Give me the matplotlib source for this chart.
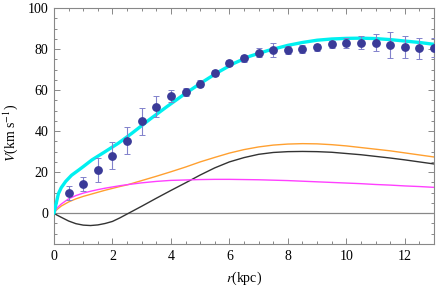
import matplotlib
matplotlib.use("Agg")
import matplotlib.pyplot as plt
from matplotlib.ticker import MultipleLocator

plt.rcParams['font.family'] = ['Liberation Serif', 'DejaVu Serif']
plt.rcParams['mathtext.fontset'] = 'stix'

# observed rotation curve
r_obs = [0.5, 1, 1.5, 2, 2.5, 3, 3.5, 4, 4.5, 5, 5.5, 6, 6.5,
         7, 7.5, 8, 8.5, 9, 9.5, 10, 10.5, 11, 11.5, 12, 12.5, 13]
v_obs = [9.8, 14.1, 21.0, 28.0, 35.4, 44.7, 52.0, 56.9, 59.1, 63.0, 68.2, 73.1, 75.4,
         78.3, 79.4, 79.5, 80.0, 80.8, 82.3, 83.1, 83.1, 83.1, 81.8, 81.1, 80.3, 80.7]
v_err = [3.5, 3.4, 5.8, 6.5, 6.7, 6.4, 5.0, 2.9, 1.8, 1.7, 1.5, 1.6, 1.8,
         2.4, 3.4, 2.0, 2.0, 1.6, 1.6, 2.4, 3.1, 4.2, 6.3, 5.4, 5.0, 4.6]

# total model
r_tot = [0, 0.05, 0.15, 0.25, 0.4, 0.6, 0.85, 1.0, 1.3, 1.75, 2.2, 2.65, 3.3, 3.85,
         4.4, 5.0, 5.6, 6.15, 6.7, 7.3, 8.0, 8.5, 9.0, 9.5, 10, 10.5, 11, 11.5, 12, 12.5, 13]
v_tot = [0, 3.2, 9.5, 12.5, 15.5, 18.5, 21.1, 22.7, 26.0, 30.0, 34.1, 38.8, 46.0, 51.8,
         57.4, 63.2, 68.6, 73.0, 76.5, 79.2, 81.8, 83.2, 84.3, 84.9, 85.2, 85.3, 85.1, 84.6, 83.9, 83.2, 82.3]

# components
r_comp = [0, 0.1, 0.25, 0.5, 0.75, 1, 1.25, 1.5, 1.75, 2, 2.25, 2.5, 3, 3.5, 4, 4.5, 5, 5.5, 6,
          6.5, 7, 7.5, 8, 8.5, 9, 9.5, 10, 10.5, 11, 11.5, 12, 12.5, 13]
v_orange = [0, 1.8, 3.5, 5.5, 7.0, 8.2, 9.2, 10.2, 11.2, 12.1, 13.0, 13.8, 15.9, 18.0, 20.2, 22.5, 25.0, 27.2, 29.3,
            31.0, 32.3, 33.2, 33.7, 33.9, 33.8, 33.4, 32.8, 32.0, 31.2, 30.4, 29.4, 28.4, 27.4]
v_magenta = [0, 2.5, 4.5, 7.0, 8.6, 9.8, 10.7, 11.5, 12.2, 12.8, 13.4, 13.9, 14.8, 15.5, 16.0, 16.2, 16.4, 16.5, 16.5,
             16.4, 16.3, 16.1, 15.9, 15.6, 15.3, 15.0, 14.7, 14.4, 14.0, 13.7, 13.3, 13.0, 12.6]
v_black = [0, -0.9, -2.0, -3.8, -5.1, -5.8, -6.0, -5.7, -5.0, -4.0, -2.3, -0.4, 3.4, 7.3, 11.1, 14.8, 18.6, 22.1, 25.0,
           27.1, 28.7, 29.6, 30.0, 30.1, 30.0, 29.7, 29.1, 28.5, 27.7, 26.9, 26.0, 25.0, 24.0]

fig = plt.figure(figsize=(4.36, 2.91), dpi=100)
ax = fig.add_axes([54 / 436, 47 / 291, 380 / 436, 236 / 291])

ax.axhline(0, color='#888888', lw=0.9, zorder=1)
ax.plot(r_comp, v_black, color='#333333', lw=1.0, zorder=2)
ax.plot(r_comp, v_orange, color='#ffa030', lw=1.0, zorder=2)
ax.plot(r_comp, v_magenta, color='#ff40ff', lw=1.0, zorder=2)
ax.plot(r_tot, v_tot, color='#00f0f0', lw=2.4, zorder=3, solid_capstyle='round')
ax.errorbar(r_obs, v_obs, yerr=v_err, fmt='o', color='#3a3a98', ms=5.3,
            ecolor='#8282cc', elinewidth=0.8, capsize=2, capthick=0.7, zorder=4)

ax.set_xlim(0, 13)
ax.set_ylim(-15, 100)
ax.xaxis.set_major_locator(MultipleLocator(2))
ax.xaxis.set_minor_locator(MultipleLocator(0.5))
ax.yaxis.set_major_locator(MultipleLocator(20))
ax.yaxis.set_minor_locator(MultipleLocator(5))
ax.tick_params(which='both', direction='in', top=True, right=True, colors='#888888',
               labelcolor='black', labelsize=10, width=0.7)
ax.tick_params(which='major', length=4, pad=4)
ax.tick_params(which='minor', length=2)
for s in ax.spines.values():
    s.set_color('#888888')
    s.set_linewidth(0.8)

ax.set_xlabel('$r$(kpc)', fontsize=10)
ax.xaxis.set_label_coords(0.5, -0.11)
ax.set_ylabel('$V$(km s$^{-1}$)', fontsize=10)
ax.yaxis.set_label_coords(-0.09, 0.47)

fig.savefig('out.png', dpi=100)
